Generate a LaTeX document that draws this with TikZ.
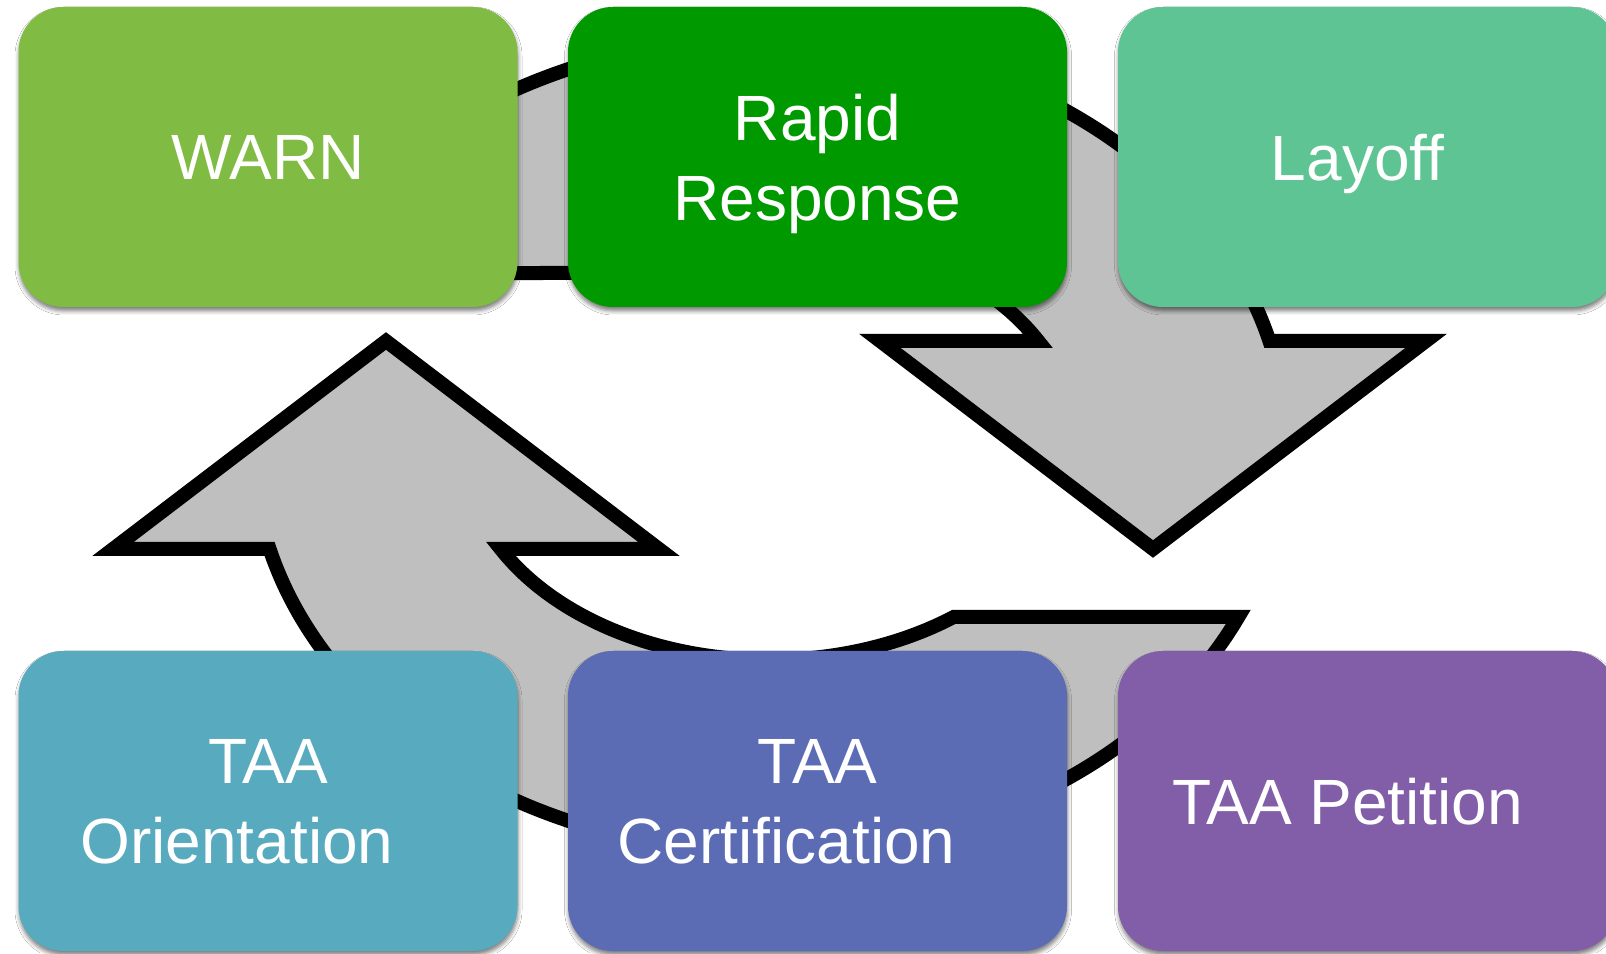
\documentclass[tikz,border=0pt]{standalone}
\usepackage{fontspec}
\setmainfont{Liberation Sans}
\usetikzlibrary{shadows.blur}
\definecolor{warngreen}{RGB}{128,187,67}
\definecolor{rapidgreen}{RGB}{0,153,0}
\definecolor{layoffgreen}{RGB}{94,196,148}
\definecolor{orientblue}{RGB}{88,170,190}
\definecolor{certblue}{RGB}{91,108,181}
\definecolor{petitionpurple}{RGB}{130,94,168}
\definecolor{arrowgray}{RGB}{191,191,191}
\tikzset{
  stage/.style = {rectangle, rounded corners=45pt, fill=#1, text=white,
                  minimum width=499pt, minimum height=300pt, align=center,
                  font=\fontsize{64}{80}\selectfont, text depth=0pt,
                  blur shadow={shadow xshift=0.5pt, shadow yshift=-4pt,
                               shadow blur radius=4pt, shadow opacity=50}},
  stage/.default = gray,
  cycle arrow/.style = {fill=arrowgray, draw=black, line width=14pt,
                        line join=miter},
}

\begin{document}
\begin{tikzpicture}[x=1pt, y=1pt]
  \clip (0,0) rectangle (1606,953);
  \fill[white] (0,0) rectangle (1606,953);
  % two curved arrows, one turned half round the other
  \foreach \r in {0,180}{
    \begin{scope}[shift={(769.5,508)}, rotate=\r]
      \draw[cycle arrow] (155.07:517 and 408)
        arc[start angle=155.07, end angle=14.77, x radius=517, y radius=408]
        -- (656.5,104) -- (383.5,-104) -- (110.5,104) -- (268.7,104)
        arc[start angle=28.93, end angle=126.87, x radius=307, y radius=215]
        -- cycle;
    \end{scope}
  }
  \node[stage=warngreen] (warn) at (268,796) {WARN};
  \node[stage=rapidgreen] (rapid) at (817.5,796) {Rapid\\Response};
  \node[stage=layoffgreen] (layoff) at (1367.5,796) {Layoff\hspace*{20pt}};
  \node[stage=orientblue] (orient) at (268,152) {TAA\\Orientation\hspace*{62pt}};
  \node[stage=certblue] (cert) at (817.5,152) {TAA\\Certification\hspace*{62pt}};
  \node[stage=petitionpurple] (petition) at (1367.5,152) {TAA Petition\hspace*{40pt}};
\end{tikzpicture}
\end{document}
